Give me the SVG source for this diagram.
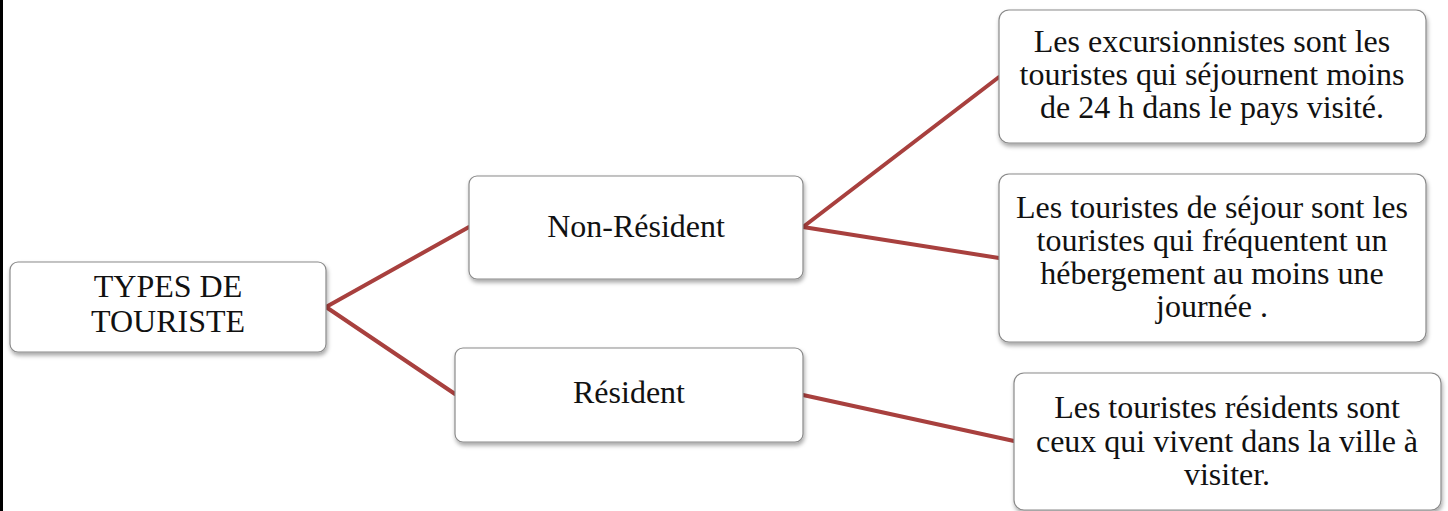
<svg xmlns="http://www.w3.org/2000/svg" width="1448" height="511" viewBox="0 0 1448 511">
<defs>
<filter id="sh" x="-10%" y="-10%" width="120%" height="130%">
<feDropShadow dx="1" dy="3" stdDeviation="2" flood-color="#000" flood-opacity="0.35"/>
</filter>
<style>
.box{fill:#fff;stroke:#8a8a8a;stroke-width:1.2;filter:url(#sh)}
.t{font-family:"Liberation Serif","Times New Roman",serif;font-size:32px;fill:#111;text-anchor:middle}
.c{stroke:#A8403E;stroke-width:4;fill:none;stroke-linecap:round}
</style>
</defs>
<rect x="0" y="0" width="1448" height="511" fill="#fff"/>
<rect x="0" y="0" width="3" height="511" fill="#000"/>
<g id="connectors">
<line class="c" x1="326" y1="307" x2="469" y2="227"/>
<line class="c" x1="326" y1="307" x2="455" y2="394"/>
<line class="c" x1="803" y1="227" x2="999" y2="77"/>
<line class="c" x1="803" y1="227" x2="999" y2="258"/>
<line class="c" x1="803" y1="395" x2="1014" y2="441"/>
</g>
<g id="node-types">
<rect class="box" x="10" y="262" width="316" height="90" rx="8"/>
<text class="t" x="168" y="297">TYPES DE</text>
<text class="t" x="168" y="332">TOURISTE</text>
</g>
<g id="node-nonresident">
<rect class="box" x="469" y="176" width="334" height="103" rx="8"/>
<text class="t" x="636" y="237">Non-Résident</text>
</g>
<g id="node-resident">
<rect class="box" x="455" y="348" width="348" height="94" rx="8"/>
<text class="t" x="629" y="403">Résident</text>
</g>
<g id="node-excursionnistes">
<rect class="box" x="999" y="10" width="427" height="133" rx="10"/>
<text class="t" x="1212" y="52">Les excursionnistes sont les</text>
<text class="t" x="1212" y="85">touristes qui séjournent moins</text>
<text class="t" x="1212" y="118">de 24 h dans le pays visité.</text>
</g>
<g id="node-sejour">
<rect class="box" x="999" y="174" width="427" height="168" rx="10"/>
<text class="t" x="1212" y="218">Les touristes de séjour sont les</text>
<text class="t" x="1212" y="251">touristes qui fréquentent un</text>
<text class="t" x="1212" y="284">hébergement au moins une</text>
<text class="t" x="1212" y="317">journée .</text>
</g>
<g id="node-residents">
<rect class="box" x="1014" y="373" width="427" height="137" rx="10"/>
<text class="t" x="1227" y="418">Les touristes résidents sont</text>
<text class="t" x="1227" y="452">ceux qui vivent dans la ville à</text>
<text class="t" x="1227" y="485">visiter.</text>
</g>
</svg>
